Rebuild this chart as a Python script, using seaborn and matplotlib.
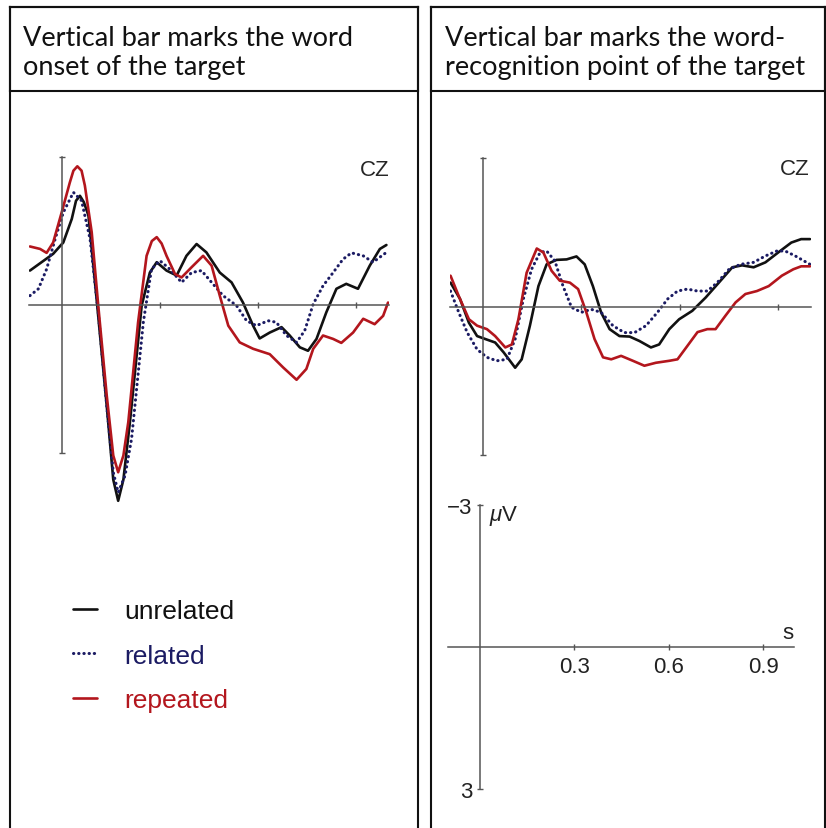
from matplotlib import pyplot as plt
import seaborn as sns

# ERP waveforms at CZ (time in s, amplitude in microvolts, negative up)
onset_t_unrelated = [-0.098, -0.027, 0.004, 0.030, 0.043, 0.055, 0.067, 0.081, 0.106, 0.137, 0.157,
                     0.172, 0.188, 0.208, 0.244, 0.269, 0.290, 0.320, 0.351, 0.381, 0.412, 0.442,
                     0.483, 0.519, 0.554, 0.585, 0.605, 0.636, 0.672, 0.697, 0.728, 0.753, 0.779,
                     0.809, 0.840, 0.870, 0.906, 0.942, 0.973, 0.993]
onset_v_unrelated = [-0.70, -1.04, -1.27, -1.75, -2.12, -2.22, -2.09, -1.82, -0.12, 2.05, 3.55,
                     3.98, 3.55, 2.38, 0.01, -0.66, -0.87, -0.70, -0.60, -1.00, -1.24, -1.07,
                     -0.66, -0.46, -0.05, 0.42, 0.68, 0.56, 0.45, 0.62, 0.86, 0.93, 0.69,
                     0.15, -0.33, -0.43, -0.33, -0.80, -1.14, -1.22]

onset_t_related = [-0.098, -0.072, -0.047, -0.021, 0.004, 0.035, 0.060, 0.086, 0.111, 0.137, 0.157,
                   0.172, 0.193, 0.213, 0.249, 0.274, 0.300, 0.330, 0.366, 0.397, 0.427, 0.458,
                   0.493, 0.534, 0.565, 0.595, 0.631, 0.656, 0.687, 0.718, 0.743, 0.769, 0.799,
                   0.830, 0.860, 0.886, 0.922, 0.952, 0.993]
onset_v_related = [-0.19, -0.33, -0.73, -1.34, -1.88, -2.29, -2.12, -1.34, 0.15, 2.05, 3.40,
                   3.81, 3.47, 2.72, 0.35, -0.73, -0.90, -0.73, -0.46, -0.66, -0.70, -0.46,
                   -0.19, 0.01, 0.32, 0.42, 0.32, 0.35, 0.62, 0.76, 0.52, -0.02, -0.39,
                   -0.66, -0.93, -1.06, -1.00, -0.87, -1.07]

onset_t_repeated = [-0.098, -0.067, -0.047, -0.027, -0.001, 0.024, 0.035, 0.047, 0.060, 0.070, 0.091,
                    0.111, 0.137, 0.157, 0.172, 0.188, 0.203, 0.233, 0.259, 0.275, 0.290, 0.305,
                    0.320, 0.346, 0.366, 0.397, 0.432, 0.458, 0.483, 0.509, 0.544, 0.585, 0.636,
                    0.677, 0.718, 0.748, 0.769, 0.799, 0.830, 0.855, 0.891, 0.922, 0.957, 0.983,
                    0.998]
onset_v_repeated = [-1.19, -1.14, -1.06, -1.27, -1.88, -2.49, -2.73, -2.82, -2.73, -2.43, -1.48,
                    0.01, 1.84, 3.06, 3.40, 3.06, 2.38, 0.35, -1.00, -1.30, -1.38, -1.25,
                    -1.00, -0.63, -0.56, -0.77, -1.00, -0.80, -0.19, 0.42, 0.76, 0.89, 1.00,
                    1.27, 1.52, 1.30, 0.89, 0.62, 0.69, 0.77, 0.56, 0.28, 0.39, 0.22,
                    -0.05]

recog_t_unrelated = [-0.099, -0.070, -0.043, -0.018, 0.007, 0.037, 0.063, 0.098, 0.118, 0.143, 0.169,
                     0.194, 0.224, 0.255, 0.285, 0.310, 0.335, 0.360, 0.386, 0.416, 0.447, 0.477,
                     0.512, 0.537, 0.568, 0.598, 0.638, 0.679, 0.719, 0.760, 0.790, 0.825, 0.861,
                     0.900, 0.940, 0.970, 0.997]
recog_v_unrelated = [-0.49, -0.16, 0.32, 0.59, 0.65, 0.72, 0.92, 1.23, 1.06, 0.38, -0.42,
                     -0.86, -0.95, -0.96, -1.02, -0.86, -0.42, 0.11, 0.45, 0.59, 0.60, 0.69,
                     0.82, 0.76, 0.45, 0.25, 0.08, -0.19, -0.49, -0.80, -0.84, -0.80, -0.90,
                     -1.10, -1.30, -1.37, -1.37]

recog_t_related = [-0.099, -0.074, -0.048, -0.018, 0.012, 0.042, 0.073, 0.098, 0.123, 0.148, 0.174,
                   0.194, 0.219, 0.244, 0.270, 0.300, 0.330, 0.360, 0.396, 0.431, 0.462, 0.497,
                   0.532, 0.563, 0.593, 0.623, 0.654, 0.684, 0.714, 0.750, 0.785, 0.825, 0.861,
                   0.896, 0.921, 0.952, 0.997]
recog_v_related = [-0.32, 0.11, 0.52, 0.86, 1.02, 1.09, 1.06, 0.65, -0.16, -0.76, -1.10,
                   -1.13, -0.93, -0.42, 0.01, 0.11, 0.05, 0.11, 0.38, 0.52, 0.52, 0.38,
                   0.11, -0.16, -0.32, -0.36, -0.32, -0.32, -0.49, -0.76, -0.86, -0.90, -1.03,
                   -1.13, -1.13, -1.03, -0.86]

recog_t_repeated = [-0.099, -0.074, -0.043, -0.018, 0.012, 0.037, 0.068, 0.088, 0.108, 0.133, 0.164,
                    0.184, 0.209, 0.234, 0.265, 0.290, 0.315, 0.340, 0.366, 0.391, 0.421, 0.457,
                    0.492, 0.527, 0.568, 0.593, 0.623, 0.654, 0.684, 0.709, 0.739, 0.770, 0.800,
                    0.835, 0.871, 0.911, 0.946, 0.970, 0.997]
recog_v_repeated = [-0.63, -0.22, 0.25, 0.38, 0.45, 0.59, 0.82, 0.76, 0.25, -0.69, -1.18,
                    -1.10, -0.73, -0.53, -0.49, -0.36, 0.11, 0.65, 1.02, 1.06, 0.99, 1.09,
                    1.19, 1.13, 1.09, 1.06, 0.79, 0.51, 0.45, 0.45, 0.18, -0.09, -0.26,
                    -0.32, -0.42, -0.63, -0.76, -0.82, -0.82]

conditions = ['unrelated', 'related', 'repeated']
colors = {'unrelated': '#111111', 'related': '#1b1b63', 'repeated': '#b3161d'}
headers = ['Vertical bar marks the word\nonset of the target',
           'Vertical bar marks the word-\nrecognition point of the target']
x_ticks = [0.3, 0.6, 0.9]
x_ticklabels = ['0.3', '0.6', '0.9']
y_ticks = [-3, 3]
y_ticklabels = ['\u22123', '3']

W, H = 826, 829


def box(x0, y0, x1, y1):
    # pixel box (top-left origin) -> figure fraction rect
    return [x0 / W, 1 - y1 / H, (x1 - x0) / W, (y1 - y0) / H]


def frame(fig, rect, bottom=True):
    ax = fig.add_axes(rect, zorder=0)
    ax.set(xticks=[], yticks=[])
    ax.patch.set_alpha(0)
    for sp in ax.spines.values():
        sp.set_color('#111111')
        sp.set_linewidth(1.5)
    ax.spines['bottom'].set_visible(bottom)
    return ax


def erp_axes(fig, rect, ylim):
    ax = fig.add_axes(rect)
    ax.patch.set_alpha(0)
    ax.set_xlim(-0.1, 1.0)
    ax.set_ylim(*ylim)
    ax.spines['top'].set_visible(False)
    ax.spines['right'].set_visible(False)
    ax.spines['left'].set_position(('data', 0))
    ax.spines['bottom'].set_position(('data', 0))
    ax.spines['left'].set_bounds(-3, 3)
    for sp in ('left', 'bottom'):
        ax.spines[sp].set_color('#555555')
        ax.spines[sp].set_linewidth(1.1)
    ax.set_xticks(x_ticks)
    ax.set_yticks(y_ticks)
    ax.tick_params(axis='both', direction='inout', length=5, width=1, color='#555555',
                   bottom=True, left=True)
    ax.set(xlabel='', ylabel='')
    return ax


def draw_waves(ax, series):
    for cond in conditions:
        t, v = series[cond]
        kw = dict(color=colors[cond], label=cond, ax=ax, sort=False)
        if cond == 'related':
            sns.lineplot(x=t, y=v, lw=2.2, linestyle=(0, (0.1, 1.6)),
                         dash_capstyle='round', **kw)
        else:
            sns.lineplot(x=t, y=v, lw=1.9, **kw)


def main() -> None:
    sns.set_theme(style='white')
    plt.rcParams['font.family'] = ['Liberation Sans', 'DejaVu Sans']
    plt.rcParams['mathtext.fontset'] = 'custom'
    plt.rcParams['mathtext.it'] = 'Liberation Sans:italic'
    plt.rcParams['mathtext.rm'] = 'Liberation Sans'

    fig = plt.figure(figsize=(W / 100, H / 100), dpi=100)

    # panel frames and header boxes
    frame(fig, box(10, 8, 418, 860), bottom=False)
    frame(fig, box(431, 8, 825, 860), bottom=False)
    frame(fig, box(10, 8, 418, 92))
    frame(fig, box(431, 8, 825, 92))
    for x0, text in zip([23, 445], headers):
        fig.text(x0 / W, 1 - 53 / H, text, family=['Lato', 'DejaVu Sans'], fontsize=19.5,
                 ha='left', va='center', linespacing=1.22, color='#111111')

    # left: word onset
    ax1 = erp_axes(fig, box(29.3, 148.6, 388.7, 512.6), (4.2, -3.2))
    ax1.set_xticklabels([])
    ax1.set_yticklabels([])
    draw_waves(ax1, {'unrelated': (onset_t_unrelated, onset_v_unrelated),
                     'related': (onset_t_related, onset_v_related),
                     'repeated': (onset_t_repeated, onset_v_repeated)})
    ax1.text(0.96, 0.94, 'CZ', transform=ax1.transAxes, fontsize=16, ha='center', va='center')

    # right: recognition point
    ax2 = erp_axes(fig, box(450.2, 149.6, 811, 481), (3.5, -3.2))
    ax2.set_xticklabels([])
    ax2.set_yticklabels([])
    draw_waves(ax2, {'unrelated': (recog_t_unrelated, recog_v_unrelated),
                     'related': (recog_t_related, recog_v_related),
                     'repeated': (recog_t_repeated, recog_v_repeated)})
    ax2.get_legend().remove()
    ax2.text(0.955, 0.94, 'CZ', transform=ax2.transAxes, fontsize=16, ha='center', va='center')

    # legend in the left panel
    handles, labels = ax1.get_legend_handles_labels()
    ax1.get_legend().remove()
    fig.legend(handles, labels, loc='upper left', bbox_to_anchor=(73 / W, 1 - 600 / H),
               frameon=False, fontsize=19, labelcolor='linecolor', borderpad=0,
               borderaxespad=0, handlelength=0.9, handletextpad=1.05, labelspacing=0.78)

    # scale bar
    ax3 = erp_axes(fig, box(448.5, 482.4, 794.5, 813.6), (3.5, -3.5))
    ax3.set_xticklabels(x_ticklabels)
    ax3.set_yticklabels(y_ticklabels)
    ax3.tick_params(axis='x', labelsize=16, pad=4, labelcolor='#222222')
    ax3.tick_params(axis='y', labelsize=16, pad=3, labelcolor='#222222')
    ax3.text(0.03, -2.8, r'$\mu$V', fontsize=16, ha='left', va='center', color='#222222')
    ax3.text(0.98, -0.3, 's', fontsize=16, ha='center', va='center', color='#222222')

    fig.savefig('out.png', dpi=100, facecolor='white')


if __name__ == '__main__':
    main()
